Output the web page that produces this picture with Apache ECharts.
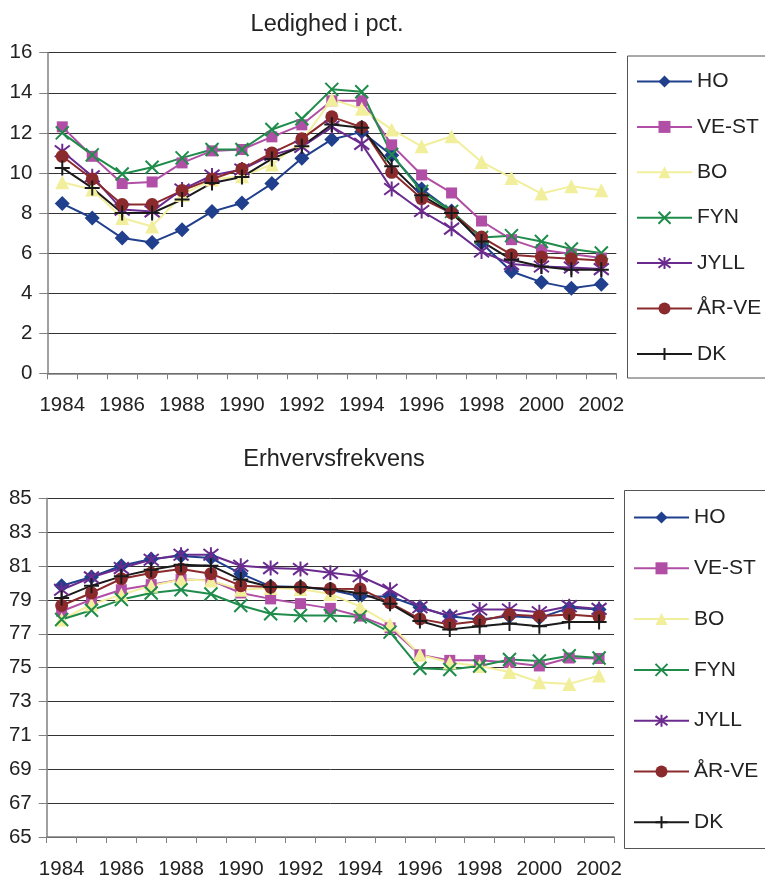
<!DOCTYPE html>
<html>
<head>
<meta charset="utf-8">
<script src="https://cdn.jsdelivr.net/npm/echarts@6/dist/echarts.min.js"></script>
<style>
  html, body { margin: 0; padding: 0; background: #fff; }
  #Echarts1 { width: 765px; height: 880px; }
</style>
</head>
<body>
<div id="Echarts1"></div>
<script>
'use strict';

// kategorier (år)
var years = ['1984','1985','1986','1987','1988','1989','1990','1991','1992','1993',
             '1994','1995','1996','1997','1998','1999','2000','2001','2002'];

var seriesNames = ['HO', 'VE-ST', 'BO', 'FYN', 'JYLL', 'ÅR-VE', 'DK'];

// Ledighed i pct.
var ledHO   = [8.47, 7.75, 6.75, 6.53, 7.17, 8.07, 8.5, 9.47, 10.73, 11.67, 12.05, 10.88, 9.2, 8.1, 6.5, 5.08, 4.55, 4.25, 4.45];
var ledVEST = [12.3, 10.83, 9.47, 9.55, 10.5, 11.1, 11.17, 11.8, 12.4, 13.6, 13.6, 11.4, 9.9, 9.0, 7.6, 6.67, 6.17, 5.95, 5.75];
var ledBO   = [9.53, 9.17, 7.75, 7.33, 8.9, 9.67, 9.83, 10.42, 11.58, 13.67, 13.2, 12.17, 11.33, 11.83, 10.55, 9.75, 8.97, 9.33, 9.13];
var ledFYN  = [12.0, 10.9, 9.95, 10.28, 10.75, 11.17, 11.17, 12.17, 12.7, 14.17, 14.05, 10.92, 9.08, 8.08, 6.78, 6.87, 6.58, 6.2, 6.0];
var ledJYLL = [11.08, 9.83, 8.17, 8.08, 9.17, 9.87, 10.17, 10.9, 11.3, 12.3, 11.45, 9.2, 8.1, 7.22, 6.08, 5.45, 5.33, 5.28, 5.2];
var ledARVE = [10.83, 9.7, 8.42, 8.42, 9.12, 9.7, 10.2, 11.0, 11.7, 12.8, 12.28, 10.03, 8.72, 8.0, 6.8, 5.92, 5.8, 5.72, 5.63];
var ledDK   = [10.25, 9.25, 8.0, 8.0, 8.67, 9.5, 9.8, 10.7, 11.33, 12.42, 12.25, 10.33, 8.88, 8.0, 6.58, 5.67, 5.33, 5.17, 5.17];

// Erhvervsfrekvens
var erhHO   = [79.84, 80.35, 81.02, 81.41, 81.6, 81.47, 80.55, 79.8, 79.76, 79.6, 79.2, 79.2, 78.57, 78.04, 77.84, 78.04, 77.94, 78.53, 78.43];
var erhVEST = [78.33, 79.02, 79.6, 79.9, 80.2, 80.16, 79.41, 79.06, 78.78, 78.5, 78.04, 77.35, 75.76, 75.43, 75.43, 75.3, 75.1, 75.57, 75.54];
var erhBO   = [77.84, 78.73, 79.31, 79.84, 80.2, 80.14, 79.6, 79.7, 79.65, 79.35, 78.6, 77.55, 75.76, 75.3, 75.1, 74.74, 74.14, 74.04, 74.53];
var erhFYN  = [77.84, 78.39, 79.02, 79.41, 79.6, 79.35, 78.67, 78.18, 78.08, 78.08, 78.0, 77.1, 74.96, 74.89, 75.1, 75.48, 75.39, 75.7, 75.57];
var erhJYLL = [79.6, 80.33, 80.88, 81.37, 81.67, 81.67, 81.02, 80.88, 80.82, 80.6, 80.4, 79.6, 78.57, 78.04, 78.43, 78.43, 78.27, 78.63, 78.47];
var erhARVE = [78.67, 79.41, 80.25, 80.59, 80.82, 80.55, 79.84, 79.76, 79.75, 79.66, 79.65, 78.82, 77.88, 77.55, 77.75, 78.14, 78.04, 78.14, 78.0];
var erhDK   = [79.12, 79.84, 80.39, 80.78, 81.08, 81.02, 80.2, 79.76, 79.76, 79.62, 79.4, 78.78, 77.75, 77.26, 77.45, 77.61, 77.45, 77.69, 77.69];

var ledTicks = [0, 16, 2];   // min, max, interval
var erhTicks = [65, 85, 2];

var colors = ['#203f8c', '#b04fa5', '#f2ef9c', '#1f8c4b', '#6b2b8e', '#8b2a2c', '#1a1a1a'];
var symbols = [
    'diamond',
    'rect',
    'triangle',
    'path://M0,0 L10,10 M10,0 L0,10',
    'path://M0,0 L10,10 M10,0 L0,10 M5,-1.5 L5,11.5',
    'circle',
    'path://M5,0 L5,10 M0,5 L10,5'
];
var symbolSizes = [15, 11, 14, 13, 15, 13, 15];

var font = 'Liberation Sans, Arial, sans-serif';
var myChart1 = echarts.init(document.getElementById('Echarts1'));

function makeSeries(dataSets, axisIndex) {
    return dataSets.map(function (d, i) {
        return {
            name: seriesNames[i],
            type: 'line',
            xAxisIndex: axisIndex,
            yAxisIndex: axisIndex,
            data: d,
            symbol: symbols[i],
            symbolSize: symbolSizes[i],
            showAllSymbol: true,
            lineStyle: { color: colors[i], width: 2 },
            itemStyle: { color: colors[i], borderColor: colors[i], borderWidth: i === 3 || i === 4 || i === 6 ? 2 : 0 },
            emphasis: { disabled: true }
        };
    });
}

function makeXAxis(gridIndex) {
    return {
        type: 'category',
        gridIndex: gridIndex,
        data: years,
        boundaryGap: true,
        axisLine: { show: true, lineStyle: { color: '#808080', width: 1.5 } },
        axisTick: { show: true, interval: 0, length: 6, lineStyle: { color: '#808080' } },
        axisLabel: { interval: 1, margin: 22, color: '#222', fontSize: 20.5, fontFamily: font },
        splitLine: { show: false }
    };
}

function makeYAxis(gridIndex, ticks) {
    return {
        type: 'value',
        gridIndex: gridIndex,
        min: ticks[0],
        max: ticks[1],
        interval: ticks[2],
        axisLine: { show: true, lineStyle: { color: '#808080', width: 1.5 } },
        axisTick: { show: true, length: 8, lineStyle: { color: '#808080' } },
        axisLabel: { margin: 15, color: '#222', fontSize: 20.5, fontFamily: font },
        splitLine: { show: true, lineStyle: { color: '#333', width: 1 } }
    };
}

function makeLegend(top, gap, left) {
    return {
        orient: 'vertical',
        left: left,
        top: top,
        padding: 0,
        itemWidth: 55,
        itemHeight: 15,
        itemGap: gap,
        selectedMode: false,
        data: seriesNames,
        textStyle: { color: '#222', fontSize: 21, lineHeight: 21, fontFamily: font }
    };
}

var option = {
    animation: false,
    backgroundColor: '#fff',
    title: [
        { text: 'Ledighed i pct.', left: 322, top: 8, textAlign: 'center',
          textStyle: { color: '#222', fontSize: 23.5, fontWeight: 'normal', fontFamily: font } },
        { text: 'Erhvervsfrekvens', left: 329, top: 443, textAlign: 'center',
          textStyle: { color: '#222', fontSize: 23.5, fontWeight: 'normal', fontFamily: font } }
    ],
    grid: [
        { left: 47.3, top: 52.7, width: 569, height: 320.6 },
        { left: 46.7, top: 498.3, width: 567.3, height: 341.7 }
    ],
    legend: [
        makeLegend(71, 24.4, 636),
        makeLegend(507, 29.8, 633)
    ],
    graphic: [
        { type: 'rect', shape: { x: 627.5, y: 56, width: 200, height: 322 },
          style: { fill: 'none', stroke: '#555', lineWidth: 1 }, silent: true },
        { type: 'rect', shape: { x: 624.5, y: 490.5, width: 200, height: 358 },
          style: { fill: 'none', stroke: '#555', lineWidth: 1 }, silent: true }
    ],
    xAxis: [makeXAxis(0), makeXAxis(1)],
    yAxis: [makeYAxis(0, ledTicks), makeYAxis(1, erhTicks)],
    series: makeSeries([ledHO, ledVEST, ledBO, ledFYN, ledJYLL, ledARVE, ledDK], 0)
        .concat(makeSeries([erhHO, erhVEST, erhBO, erhFYN, erhJYLL, erhARVE, erhDK], 1))
};

myChart1.setOption(option);
</script>
</body>
</html>
